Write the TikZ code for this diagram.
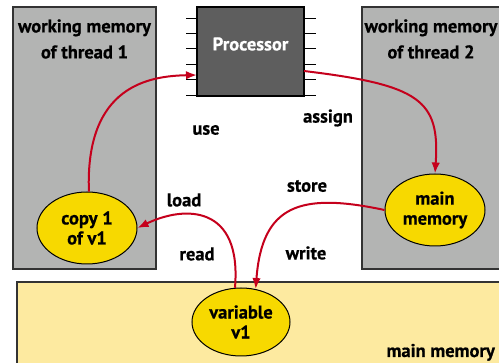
\documentclass[tikz,border=0pt]{standalone}
\usepackage{fontspec}
\setmainfont{PT Sans}[BoldFeatures={FakeBold=0.6}]
\usetikzlibrary{arrows.meta,shapes.geometric}
\definecolor{boxgray}{HTML}{B3B4B3}
\definecolor{procgray}{HTML}{5E5E5E}
\definecolor{ellyellow}{HTML}{F7D900}
\definecolor{memyellow}{HTML}{FDEAA0}
\definecolor{arrred}{HTML}{C5001C}
\definecolor{edgedark}{HTML}{333333}
\tikzset{
  wmbox/.style={draw=edgedark, line width=1.4pt, fill=boxgray, rectangle, inner sep=0pt},
  membox/.style={draw=edgedark, line width=1.4pt, fill=memyellow, rectangle, inner sep=0pt},
  procbox/.style={draw=black, line width=1.2pt, fill=procgray, rectangle, inner sep=0pt},
  pin/.style={draw=black, line width=1pt},
  oval/.style={ellipse, draw=black, line width=1pt, fill=ellyellow, minimum width=100pt, minimum height=72pt, inner sep=0pt, align=center, font=\fontsize{18.5}{20}\selectfont\bfseries},
  lbl/.style={font=\fontsize{18.5}{26}\selectfont\bfseries, align=center, inner sep=0pt},
  flow/.style={draw=arrred, line width=2pt, -{Latex[length=11pt,width=8.5pt]}},
}
\begin{document}
\begin{tikzpicture}[x=1pt,y=-1pt]
\useasboundingbox (0,0) rectangle (499,363);
% boxes
\node[wmbox, minimum width=143pt, minimum height=262pt] (wm1) at (84.5,138) {};
\node[wmbox, minimum width=150pt, minimum height=262pt] (wm2) at (437,138) {};
\node[membox, minimum width=495pt, minimum height=90pt] (mm) at (264.5,327) {};
\node[procbox, minimum width=107pt, minimum height=89pt] (proc) at (250.5,51.5) {};
% pins
\foreach \y in {19,34,49,65,80,96} {
  \draw[pin] (186,\y) -- (197,\y);
  \draw[pin] (304,\y) -- (316,\y);
}
% labels
\node[lbl, text=white] (proclbl) at (250.5,44) {Processor};
\node[lbl] (wm1lbl) at (84.5,39) {working memory\\of thread 1};
\node[lbl] (wm2lbl) at (431,39) {working memory\\of thread 2};
\node[lbl, anchor=base east] (mmlbl) at (495,357) {main memory};
\node[lbl] (use) at (206,130) {use};
\node[lbl] (assign) at (328,118) {assign};
\node[lbl] (load) at (184,200) {load};
\node[lbl] (read) at (197,254) {read};
\node[lbl] (store) at (307,186) {store};
\node[lbl] (write) at (306,253) {write};
% ellipses
\node[oval] (copy) at (87,228) {copy 1\\of v1};
\node[oval] (mainm) at (435,210) {main\\memory};
\node[oval, minimum width=98pt, minimum height=68pt] (var) at (241,322) {variable\\v1};
% coordinates on processor
\coordinate (pin) at (197,75);
\coordinate (pout) at (304,71);
% arrows
\draw[flow] (copy.87) .. controls (85,85) and (150,76) .. (pin);
\draw[flow] (pout) .. controls (420,85) and (440,100) .. (mainm.north);
\draw[flow] (mainm.west) .. controls (300,192) and (262,205) .. (var.66);
\draw[flow] (var.100) .. controls (242,205) and (185,205) .. (copy.east);
\end{tikzpicture}
\end{document}
